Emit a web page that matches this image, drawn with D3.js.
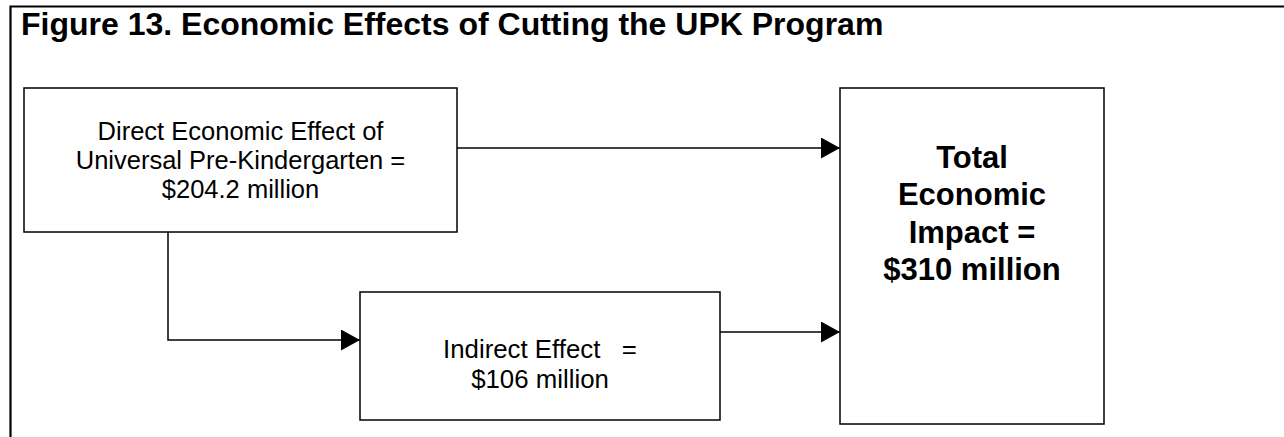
<!DOCTYPE html>
<html>
<head>
<meta charset="utf-8">
<script src="https://cdn.jsdelivr.net/npm/d3@7"></script>
<style>
  html, body { margin: 0; padding: 0; background: #fff; }
  svg { display: block; }
  text { font-family: "Liberation Sans", Arial, sans-serif; fill: #000; }
</style>
</head>
<body>
<div id="vis"></div>
<script>
// figure data
const title = "Figure 13. Economic Effects of Cutting the UPK Program";
const nodeIds = ["direct", "indirect", "total"];
const nodeLabels = [
  ["Direct Economic Effect of", "Universal Pre-Kindergarten ="],
  ["Indirect Effect   ="],
  ["Total", "Economic", "Impact ="]
];
const nodeValues = [204.2, 106, 310]; // $ million
const links = [["direct", "total"], ["direct", "indirect"], ["indirect", "total"]];

let w = 1284, h = 437;

let svg = d3.select("#vis").append("svg")
  .attr("width", w)
  .attr("height", h);

// boxes in pixel space
let layout = {
  direct:   { x0: 24,  x1: 457,  y0: 88,  y1: 232, size: 25.5, bold: false, first: 140, step: 29 },
  indirect: { x0: 360, x1: 720,  y0: 292, y1: 420, size: 25.8, bold: false, first: 358, step: 30 },
  total:    { x0: 840, x1: 1104, y0: 88,  y1: 424, size: 31,   bold: true,  first: 168, step: 37.3 }
};

let money = v => "$" + d3.format(",")(v) + " million";

// frame (only top and left edges show)
svg.append("path")
  .attr("d", `M10.5,${h} V6.5 H${w}`)
  .attr("fill", "none")
  .attr("stroke", "#000")
  .attr("stroke-width", 2.2);

svg.append("text")
  .attr("x", 21)
  .attr("y", 35)
  .attr("font-size", 32)
  .attr("font-weight", "bold")
  .text(title);

// arrowhead
svg.append("defs").append("marker")
  .attr("id", "arrow")
  .attr("markerUnits", "userSpaceOnUse")
  .attr("viewBox", "0 0 19 21")
  .attr("refX", 19)
  .attr("refY", 10.5)
  .attr("markerWidth", 19)
  .attr("markerHeight", 21)
  .attr("orient", "auto")
  .append("path")
  .attr("d", "M0,0 L19,10.5 L0,21 Z")
  .attr("fill", "#000");

let line = d3.line();

// connector routes
function route(a, b) {
  let A = layout[a], B = layout[b];
  if (a === "direct" && b === "total") {
    let y = 148;
    return [[A.x1, y], [B.x0, y]];
  }
  if (a === "direct" && b === "indirect") {
    let x = 168, y = 340;
    return [[x, A.y1], [x, y], [B.x0, y]];
  }
  let y = 332;
  return [[A.x1, y], [B.x0, y]];
}

svg.selectAll("path.link")
  .data(links)
  .enter()
  .append("path")
  .attr("class", "link")
  .attr("d", d => line(route(d[0], d[1])))
  .attr("fill", "none")
  .attr("stroke", "#000")
  .attr("stroke-width", 1.5)
  .attr("marker-end", "url(#arrow)");

let node = svg.selectAll("g.node")
  .data(nodeIds)
  .enter()
  .append("g")
  .attr("class", "node");

node.append("rect")
  .attr("x", d => layout[d].x0)
  .attr("y", d => layout[d].y0)
  .attr("width", d => layout[d].x1 - layout[d].x0)
  .attr("height", d => layout[d].y1 - layout[d].y0)
  .attr("fill", "#fff")
  .attr("stroke", "#000")
  .attr("stroke-width", 1.5);

node.each(function(d, i) {
  let L = layout[d];
  let lines = nodeLabels[i].concat([money(nodeValues[i])]);
  d3.select(this).selectAll("text")
    .data(lines)
    .enter()
    .append("text")
    .attr("x", (L.x0 + L.x1) / 2)
    .attr("y", (t, j) => L.first + j * L.step)
    .attr("text-anchor", "middle")
    .attr("font-size", L.size)
    .attr("font-weight", L.bold ? "bold" : "normal")
    .style("white-space", "pre")
    .text(t => t);
});
</script>
</body>
</html>
